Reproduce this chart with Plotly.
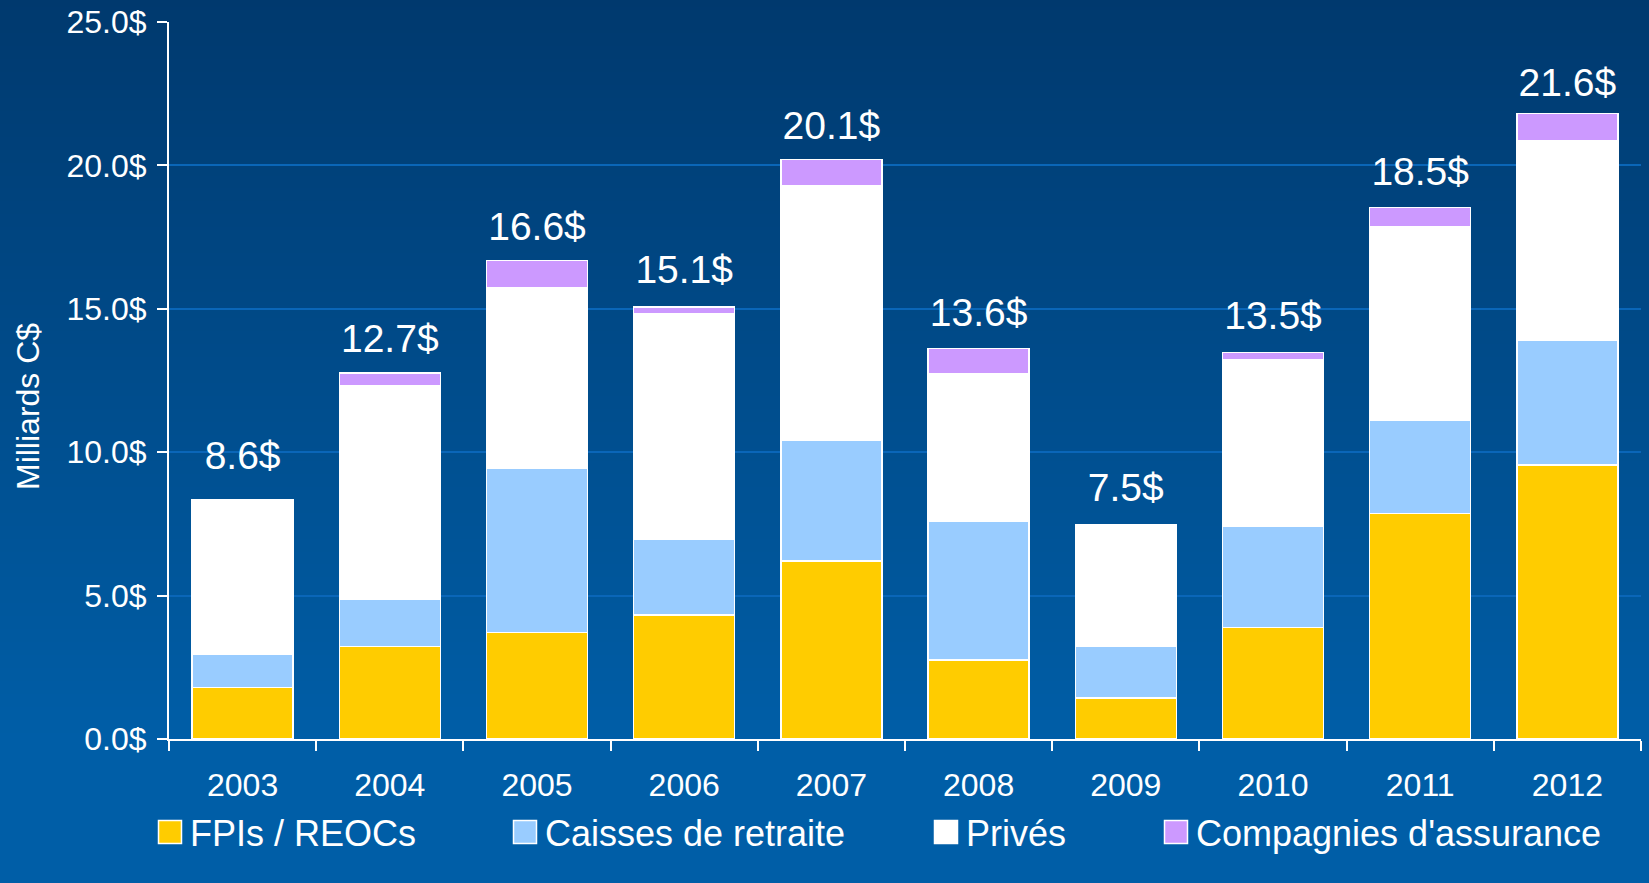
import base64
import struct
import zlib

import plotly.graph_objects as go

# ---------------- data ----------------
years = ["2003", "2004", "2005", "2006", "2007", "2008", "2009", "2010", "2011", "2012"]
fpi_reocs = [1.79, 3.22, 3.71, 4.33, 6.20, 2.75, 1.43, 3.88, 7.86, 9.56]
caisses_retraite = [1.16, 1.65, 5.74, 2.63, 4.21, 4.84, 1.80, 3.55, 3.24, 4.36]
prives = [5.38, 7.44, 6.28, 7.87, 8.88, 5.15, 4.24, 5.79, 6.75, 6.93]
assurance = [0.0, 0.46, 0.95, 0.24, 0.91, 0.87, 0.0, 0.25, 0.69, 0.96]
total_labels = [8.6, 12.7, 16.6, 15.1, 20.1, 13.6, 7.5, 13.5, 18.5, 21.6]

series_names = ["FPIs / REOCs", "Caisses de retraite", "Privés", "Compagnies d'assurance"]
series_values = [fpi_reocs, caisses_retraite, prives, assurance]
series_colors = ["#FFCC00", "#99CCFF", "#FFFFFF", "#CC99FF"]

# ---------------- geometry ----------------
W, H = 1649, 883
ML, MR, MT, MB = 169, 8, 22, 144
PW, PH = W - ML - MR, H - MT - MB

FONT = "Liberation Sans, Arial, sans-serif"


# ---------------- gradient background (PNG data URI) ----------------
def gradient_png(height, width=4):
    top = (0, 57, 110)
    bot = (0, 94, 167)
    rows = []
    for r in range(height):
        t = min(1.0, r / (MT + PH))
        c = tuple(int(round(top[i] + (bot[i] - top[i]) * t)) for i in range(3))
        rows.append(b"\x00" + bytes(c) * width)
    raw = b"".join(rows)

    def chunk(tag, data):
        return (struct.pack(">I", len(data)) + tag + data
                + struct.pack(">I", zlib.crc32(tag + data) & 0xFFFFFFFF))

    ihdr = struct.pack(">IIBBBBB", width, height, 8, 2, 0, 0, 0)
    png = (b"\x89PNG\r\n\x1a\n" + chunk(b"IHDR", ihdr)
           + chunk(b"IDAT", zlib.compress(raw, 9)) + chunk(b"IEND", b""))
    return "data:image/png;base64," + base64.b64encode(png).decode()


fig = go.Figure()

legend_ids = ["legend", "legend2", "legend3", "legend4"]
for name, vals, col, lid in zip(series_names, series_values, series_colors, legend_ids):
    fig.add_trace(go.Bar(
        x=years, y=vals, name=name,
        marker=dict(color=col, line=dict(color="white", width=1.5)),
        legend=lid,
        hovertemplate="%{x}: %{y:.1f}$<extra>" + name + "</extra>",
    ))

fig.add_trace(go.Scatter(
    x=years, y=total_labels, mode="markers+text",
    marker=dict(size=20, opacity=0),
    text=[f"{v:.1f}$" for v in total_labels],
    textposition="top center",
    textfont=dict(family=FONT, size=39, color="white"),
    showlegend=False, hoverinfo="skip",
))

# legend placements (pixel x of legend box left)
legend_px = [150, 505, 926, 1156]
legend_y = (MT + PH - 832) / PH
leg_common = dict(
    orientation="h", yanchor="middle", y=legend_y, xanchor="left",
    bgcolor="rgba(0,0,0,0)", borderwidth=0,
    font=dict(family=FONT, size=36, color="white"),
    itemclick=False, itemdoubleclick=False,
)
legends = {}
for lid, px in zip(legend_ids, legend_px):
    legends[lid] = dict(leg_common, x=(px - ML) / PW)

fig.update_layout(
    width=W, height=H, autosize=False,
    margin=dict(l=ML, r=MR, t=MT, b=MB, pad=0, autoexpand=False),
    barmode="stack", bargap=0.314,
    paper_bgcolor="#004a8a",
    plot_bgcolor="rgba(0,0,0,0)",
    font=dict(family=FONT, color="white"),
    showlegend=True,
    images=[dict(
        source=gradient_png(H), xref="paper", yref="paper",
        x=-ML / PW, y=1 + MT / PH, sizex=W / PW, sizey=H / PH,
        xanchor="left", yanchor="top", sizing="stretch", layer="below",
    )],
    xaxis=dict(
        type="category", range=[-0.5, len(years) - 0.5],
        showline=True, linecolor="white", linewidth=2,
        ticks="outside", tickson="boundaries", ticklen=10, tickwidth=2, tickcolor="white",
        tickfont=dict(family=FONT, size=32, color="white"),
        ticklabelstandoff=17,
        showgrid=False, zeroline=False,
    ),
    yaxis=dict(
        range=[0, 25], dtick=5, tickformat=".1f", ticksuffix="$",
        showline=True, linecolor="white", linewidth=2,
        ticks="outside", ticklen=10, tickwidth=2, tickcolor="white",
        tickfont=dict(family=FONT, size=32, color="white"),
        ticklabelstandoff=4,
        showgrid=True, gridcolor="#0a66b8", gridwidth=2,
        zeroline=False,
    ),
    annotations=[dict(
        text="Milliards C$", textangle=-90, showarrow=False,
        xref="paper", yref="paper",
        x=(28 - ML) / PW, y=(MT + PH - 407) / PH,
        xanchor="center", yanchor="middle",
        font=dict(family=FONT, size=32, color="white"),
    )],
    **legends,
)

post_js = """
document.documentElement.style.margin = '0';
document.body.style.margin = '0';
document.body.style.padding = '0';
document.body.style.background = '#004a8a';
var gd = document.getElementById('{plot_id}');
function bigSwatches(){
  gd.querySelectorAll('.legendpoints path').forEach(function(p){
    p.setAttribute('d','M11.5,11.5H-11.5V-11.5H11.5Z');
  });
}
bigSwatches();
gd.on('plotly_afterplot', bigSwatches);
"""

fig.write_html("out.html", post_script=post_js, config={"displayModeBar": False})
